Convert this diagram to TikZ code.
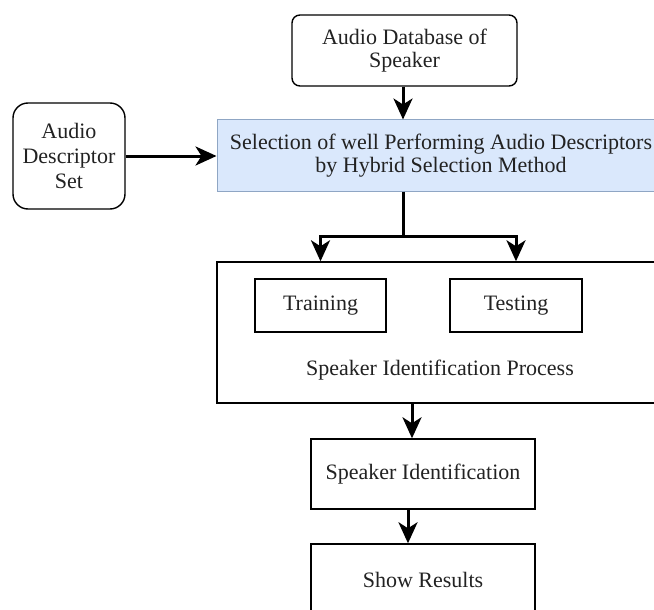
\documentclass[tikz,border=0pt]{standalone}
\usepackage{fontspec}
\setmainfont{Liberation Serif}
\usetikzlibrary{arrows.meta}
\definecolor{selfill}{HTML}{DAE8FC}
\definecolor{seldraw}{HTML}{8FA6C4}
\definecolor{txt}{HTML}{222222}
\begin{document}
\begin{tikzpicture}[x=1pt,y=-1pt,
  lbl/.style={inner sep=0pt, align=center, text=txt, font=\fontsize{22}{23.5}\selectfont},
  box/.style={lbl, draw=black, line width=1.4pt},
  rbox/.style={box, rounded corners=#1},
  conn/.style={line width=3pt, draw=black},
  arr/.style={conn, -{Stealth[length=21pt, width=19pt, inset=6pt]}},
]
\useasboundingbox (0,0) rectangle (654,610);
\clip (0,0) rectangle (654,610);
\fill[white] (0,0) rectangle (654,610);

\node[rbox=8pt, minimum width=225pt, minimum height=71pt] (db) at (404.5,50.5) {Audio Database of\\Speaker};
\node[rbox=15pt, minimum width=112pt, minimum height=106pt, font=\fontsize{22}{25}\selectfont] (ads) at (69,156) {Audio\\Descriptor\\Set};
\node[box, draw=seldraw, fill=selfill, line width=1pt, minimum width=448pt, minimum height=71pt] (sel) at (441,155.5) {Selection of well Performing Audio Descriptors\\by Hybrid Selection Method};
\node[box, minimum width=448pt, minimum height=141pt] (proc) at (441,332.5) {};
\node[lbl] (proclbl) at (440,370) {Speaker Identification Process};
\node[box, minimum width=131pt, minimum height=53pt] (train) at (320.5,305.5) {Training};
\node[box, minimum width=132pt, minimum height=53pt] (test) at (516,305.5) {Testing};
\node[box, minimum width=224pt, minimum height=70pt] (sid) at (423,474) {Speaker Identification};
\node[box, minimum width=224pt, minimum height=72pt] (show) at (423,580) {Show Results};

\coordinate (bj) at (403,236);
\coordinate (a1) at (412,0);
\coordinate (a2) at (408,0);

\draw[arr] (db.south -| bj) -- (bj |- sel.north);
\draw[arr] (ads.east) -- (ads.east -| sel.west);
\draw[conn] (bj |- sel.south) -- (bj);
\draw[arr, line join=miter] (bj) -| (train.north |- proc.north);
\draw[arr, line join=miter] (bj) -| (test.north |- proc.north);
\draw[arr] (a1 |- proc.south) -- (a1 |- sid.north);
\draw[arr] (a2 |- sid.south) -- (a2 |- show.north);
\end{tikzpicture}
\end{document}
